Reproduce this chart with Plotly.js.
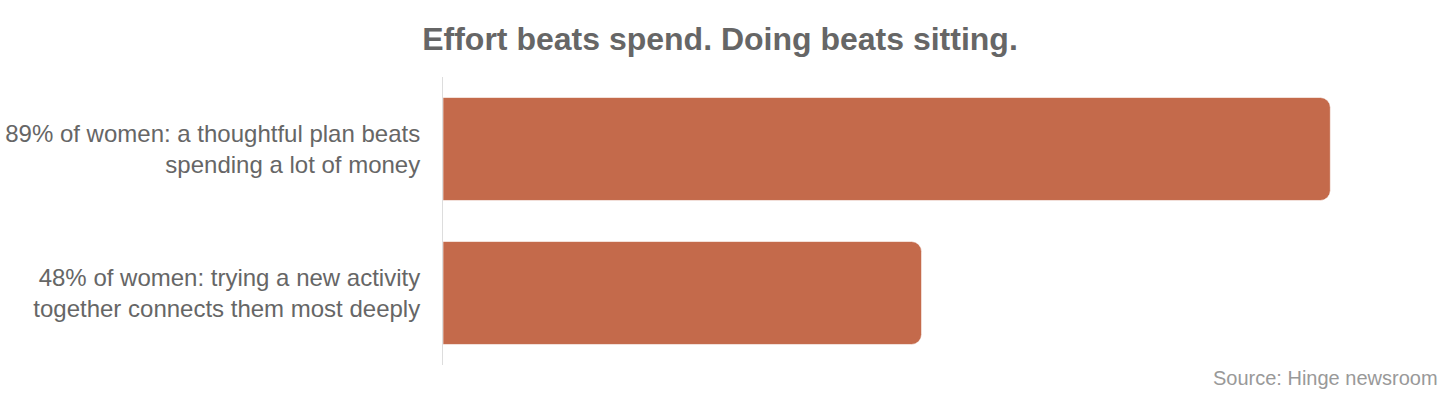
<!DOCTYPE html>
<html>
<head>
<meta charset="utf-8">
<script src="https://cdn.plot.ly/plotly-3.0.1.min.js"></script>
<style>html,body{margin:0;padding:0;background:#fff;}#chart{width:1440px;height:400px;}</style>
</head>
<body>
<div id="chart"></div>
<script>
var categories = [
  "89% of women: a thoughtful plan beats<br>spending a lot of money",
  "48% of women: trying a new activity<br>together connects them most deeply"
];
var values = [89, 48];
var titleText = "Effort beats spend. Doing beats sitting.";
var sourceText = "Source: Hinge newsroom";

var trace = {
  type: "bar",
  orientation: "h",
  x: values,
  y: categories,
  marker: {color: "#C46A4B", line: {color: "rgba(255,255,255,0.6)", width: 1}},
  hoverinfo: "none"
};

var layout = {
  width: 1440,
  height: 400,
  paper_bgcolor: "#fff",
  plot_bgcolor: "#fff",
  font: {family: "Liberation Sans, Arial, sans-serif", color: "#666"},
  margin: {l: 443, r: 0, t: 77, b: 35},
  barcornerradius: 10,
  bargap: 0.285,
  showlegend: false,
  title: {
    text: "<b>" + titleText + "</b>",
    font: {size: 32, color: "#666"},
    x: 0.5, xanchor: "center",
    y: 1 - 39 / 400, yanchor: "middle", yref: "container"
  },
  xaxis: {
    range: [0, 100],
    showgrid: false, zeroline: false, showline: false,
    showticklabels: false, ticks: ""
  },
  yaxis: {
    autorange: "reversed",
    showgrid: false, zeroline: false,
    showline: true, linecolor: "#ddd", linewidth: 1,
    ticks: "", ticklabelstandoff: 17,
    tickfont: {size: 24, color: "#666"}
  },
  annotations: [{
    text: sourceText,
    xref: "paper", yref: "paper",
    x: 1, xanchor: "right",
    y: 0, yanchor: "top",
    showarrow: false,
    font: {size: 20, color: "#999"}
  }]
};

Plotly.newPlot("chart", [trace], layout, {displayModeBar: false, staticPlot: true});
</script>
</body>
</html>
